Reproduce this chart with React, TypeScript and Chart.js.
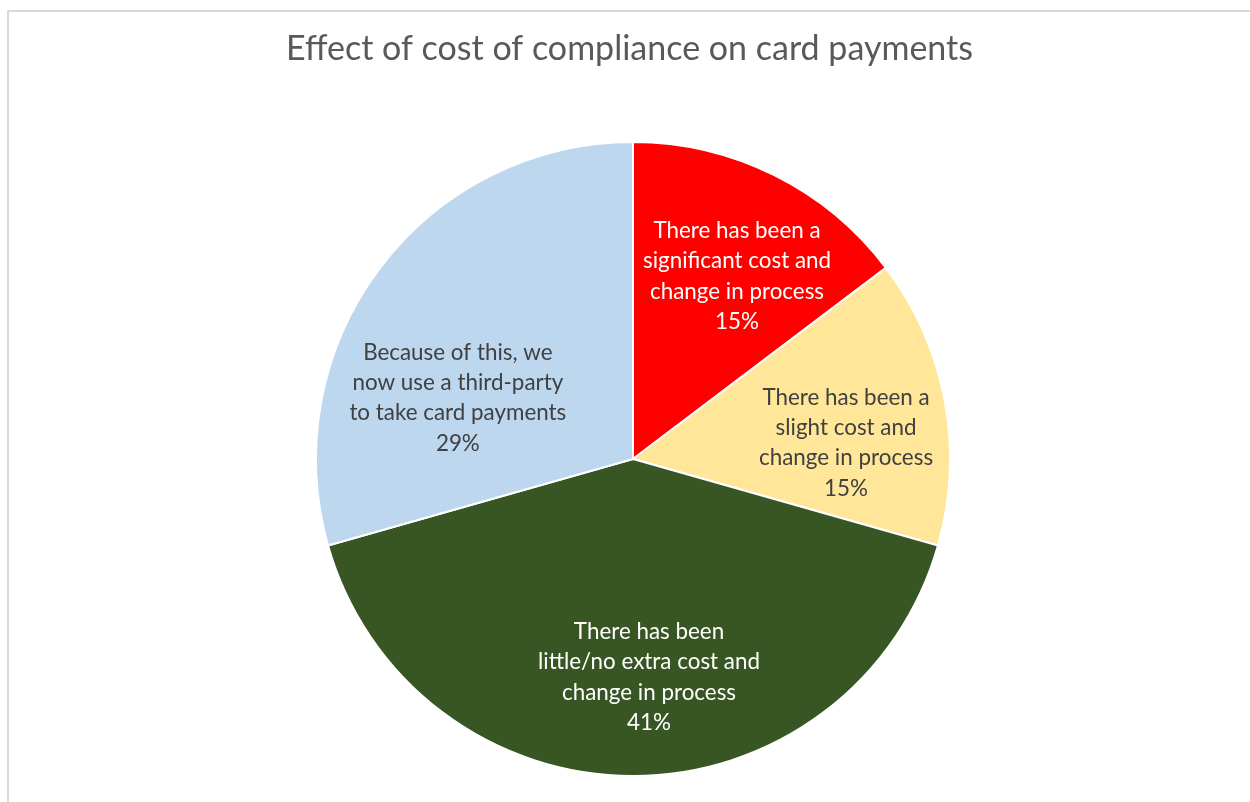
import React, { useEffect, useRef } from "react";
import { Chart, registerables } from "chart.js";

Chart.register(...registerables);

const TITLE = "Effect of cost of compliance on card payments";
const categories: string[][] = [
  ["There has been a", "significant cost and", "change in process"],
  ["There has been a", "slight cost and", "change in process"],
  ["There has been", "little/no extra cost and", "change in process"],
  ["Because of this, we", "now use a third-party", "to take card payments"],
];
const values = [14.7, 14.7, 41.2, 29.4];
const colors = ["#FF0000", "#FFE699", "#375623", "#BDD7EE"];
const labelColors = ["#FFFFFF", "#404040", "#FFFFFF", "#404040"];
// label placement: angle shift (deg, clockwise) and radius fraction
const labelAngleShift = [3.2, 6.3, -4.2, -17.9];
const labelRadiusFrac = [0.663, 0.674, 0.69, 0.585];

const FONT = "Lato, 'Open Sans', sans-serif";

const titlePlugin = {
  id: "freeTitle",
  afterDraw(chart: any) {
    const ctx = chart.ctx;
    ctx.save();
    ctx.font = `34px ${FONT}`;
    ctx.fillStyle = "#595959";
    ctx.textAlign = "center";
    ctx.textBaseline = "alphabetic";
    ctx.fillText(TITLE, 629.5, 60);
    ctx.restore();
  },
};

const labelPlugin = {
  id: "sliceLabels",
  afterDatasetsDraw(chart: any) {
    const ctx = chart.ctx;
    const meta = chart.getDatasetMeta(0);
    const data = chart.data.datasets[0].data as number[];
    const total = data.reduce((a, b) => a + b, 0);
    ctx.save();
    ctx.font = `22.4px ${FONT}`;
    ctx.textAlign = "center";
    ctx.textBaseline = "middle";
    meta.data.forEach((arc: any, i: number) => {
      const { x, y, startAngle, endAngle, outerRadius } = arc.getProps(
        ["x", "y", "startAngle", "endAngle", "outerRadius"],
        true
      );
      const a = (startAngle + endAngle) / 2 + (labelAngleShift[i] * Math.PI) / 180;
      const r = outerRadius * labelRadiusFrac[i];
      const cx = x + r * Math.cos(a);
      const cy = y + r * Math.sin(a);
      const lines = [...categories[i], Math.round((data[i] / total) * 100) + "%"];
      const lh = 30.3;
      ctx.fillStyle = labelColors[i];
      lines.forEach((t, k) => {
        ctx.fillText(t, cx, cy + (k - (lines.length - 1) / 2) * lh);
      });
    });
    ctx.restore();
  },
};

export default function App() {
  const ref = useRef<HTMLCanvasElement>(null);
  useEffect(() => {
    document.body.style.overflow = "hidden";
    const chart = new Chart(ref.current!, {
      type: "pie",
      data: {
        labels: categories.map((c) => c.join(" ")),
        datasets: [
          {
            data: values,
            backgroundColor: colors,
            borderColor: "#FFFFFF",
            borderWidth: 2,
            hoverOffset: 0,
          },
        ],
      },
      options: {
        responsive: false,
        animation: false,
        layout: { padding: { left: 315, right: 299, top: 141, bottom: 25 } },
        plugins: {
          legend: { display: false },
          tooltip: { enabled: false },
          title: { display: false },
        },
      },
      plugins: [labelPlugin, titlePlugin],
    });
    return () => chart.destroy();
  }, []);
  return (
    <>
      <div
        style={{
          position: "fixed",
          left: 7,
          top: 10,
          width: 1243,
          height: 792,
          borderLeft: "2px solid #D9D9D9",
          borderTop: "2px solid #D9D9D9",
          boxSizing: "border-box",
        }}
      />
      <canvas
        ref={ref}
        width={1250}
        height={802}
        style={{ position: "fixed", left: 0, top: 0, width: 1250, height: 802 }}
      />
    </>
  );
}
